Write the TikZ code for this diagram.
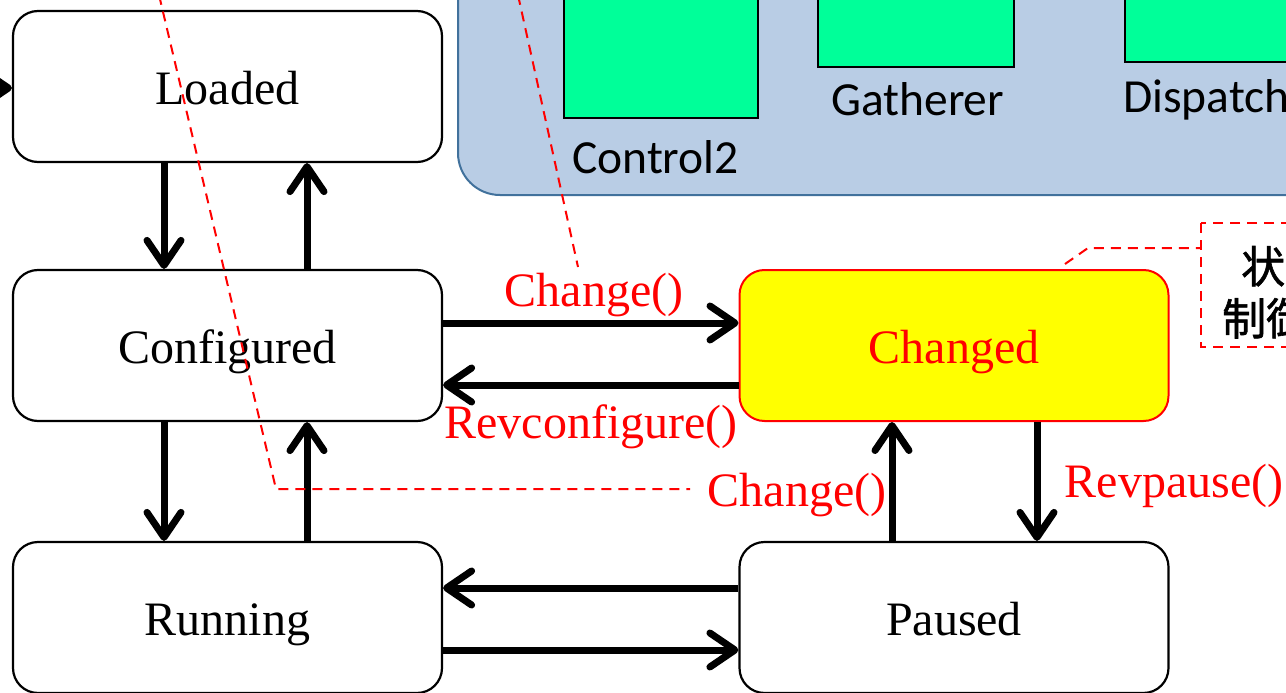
\documentclass[tikz,border=0pt]{standalone}
\usepackage{fontspec}
\setmainfont{Liberation Serif}
\newfontfamily\uisans{Carlito}
\newfontfamily\cjk{Noto Sans CJK JP}[FakeBold=1.3]
\usetikzlibrary{arrows.meta}
\definecolor{panelblue}{HTML}{B9CDE5}
\definecolor{paneledge}{HTML}{41719C}
\definecolor{modgreen}{HTML}{00FF99}
\definecolor{hotyellow}{RGB}{255,255,0}
\definecolor{pured}{RGB}{255,0,0}

\begin{document}
\begin{tikzpicture}[x=1pt,y=-1pt,
  state/.style={draw=black, line width=2.2pt, rounded corners=25pt, fill=white,
    minimum width=429pt, minimum height=151pt, inner sep=0pt,
    font=\fontsize{48}{58}\selectfont, text height=35pt, text depth=0pt},
  hot/.style={state, draw=pured, fill=hotyellow, text=pured, line width=2pt},
  arr/.style={line width=7pt, -{Straight Barb[length=25pt,width=34pt,round]}},
  lbl/.style={text=pured, font=\fontsize{48}{58}\selectfont, anchor=base, inner sep=0pt},
  module/.style={draw=black, line width=1.6pt, fill=modgreen},
  modlbl/.style={font=\uisans\fontsize{47.5}{56}\selectfont, anchor=base west, inner sep=0pt},
  callout/.style={draw=pured, line width=2pt, dash pattern=on 10pt off 7pt},
  note/.style={font=\cjk\fontsize{44}{50}\selectfont, anchor=base west, inner sep=0pt}]

\useasboundingbox (0,0) rectangle (1286,693);
\clip (0,0) rectangle (1286,693);

% component panel with its modules
\draw[paneledge, line width=2pt, fill=panelblue, rounded corners=42pt]
  (458,-60) rectangle (1360,195);
\draw[module] (564,-20) rectangle (758,118);
\draw[module] (818,-20) rectangle (1014,67);
\draw[module] (1125,-20) rectangle (1360,62);
\node[modlbl] (control2) at (572,173) {Control2};
\node[modlbl] (gatherer) at (831,115) {Gatherer};
\node[modlbl] (dispatcher) at (1123,112) {Dispatcher};

% states
\node[state] (Loaded) at (227.5,86.5) {Loaded};
\node[state] (Configured) at (227.5,345.5) {Configured};
\node[state] (Running) at (227.5,617.5) {Running};
\node[hot] (Changed) at (954,345.5) {Changed};
\node[state] (Paused) at (954,617.5) {Paused};

% transitions
\coordinate (entry) at (-60,88);
\draw[arr] (entry) -- (entry -| Loaded.west);
\draw[arr] ([xshift=-63.5pt]Loaded.south) -- ([xshift=-63.5pt]Configured.north);
\draw[arr] ([xshift=79.5pt]Configured.north) -- ([xshift=79.5pt]Loaded.south);
\draw[arr] ([xshift=-63.5pt]Configured.south) -- ([xshift=-63.5pt]Running.north);
\draw[arr] ([xshift=79.5pt]Running.north) -- ([xshift=79.5pt]Configured.south);
\draw[arr] ([yshift=22.5pt]Configured.east) -- ([yshift=22.5pt]Changed.west);
\draw[arr] ([yshift=-39.5pt]Changed.west) -- ([yshift=-39.5pt]Configured.east);
\draw[arr] ([xshift=-62pt]Paused.north) -- ([xshift=-62pt]Changed.south);
\draw[arr] ([xshift=83pt]Changed.south) -- ([xshift=83pt]Paused.north);
\draw[arr] ([yshift=29.5pt]Paused.west) -- ([yshift=29.5pt]Running.east);
\draw[arr] ([yshift=-32.5pt]Running.east) -- ([yshift=-32.5pt]Paused.west);

% transition labels
\node[lbl] (chgA) at (594,306) {Change()};
\node[lbl] (revcfg) at (591,438) {Revconfigure()};
\node[lbl] (chgB) at (797,506) {Change()};
\node[lbl] (revpause) at (1174,497) {Revpause()};

% callout note
\draw[callout] (1201,223) rectangle (1360,347);
\node[note] (noteA) at (1241,283) {状態};
\node[note] (noteB) at (1222,335) {制御};

% callout leaders
\coordinate (leadA0) at (159,-5);
\coordinate (leadA1) at (276,489);
\coordinate (leadA2) at (690,489);
\draw[callout] (leadA0) -- (leadA1) -- (leadA2);
\coordinate (leadB0) at (518,-5);
\coordinate (leadB1) at (578,267);
\draw[callout] (leadB0) -- (leadB1);
\coordinate (leadC0) at (1065,264);
\coordinate (leadC1) at (1088,248);
\coordinate (leadC2) at (1201,248);
\draw[callout] (leadC0) -- (leadC1) -- (leadC2);
\end{tikzpicture}
\end{document}
